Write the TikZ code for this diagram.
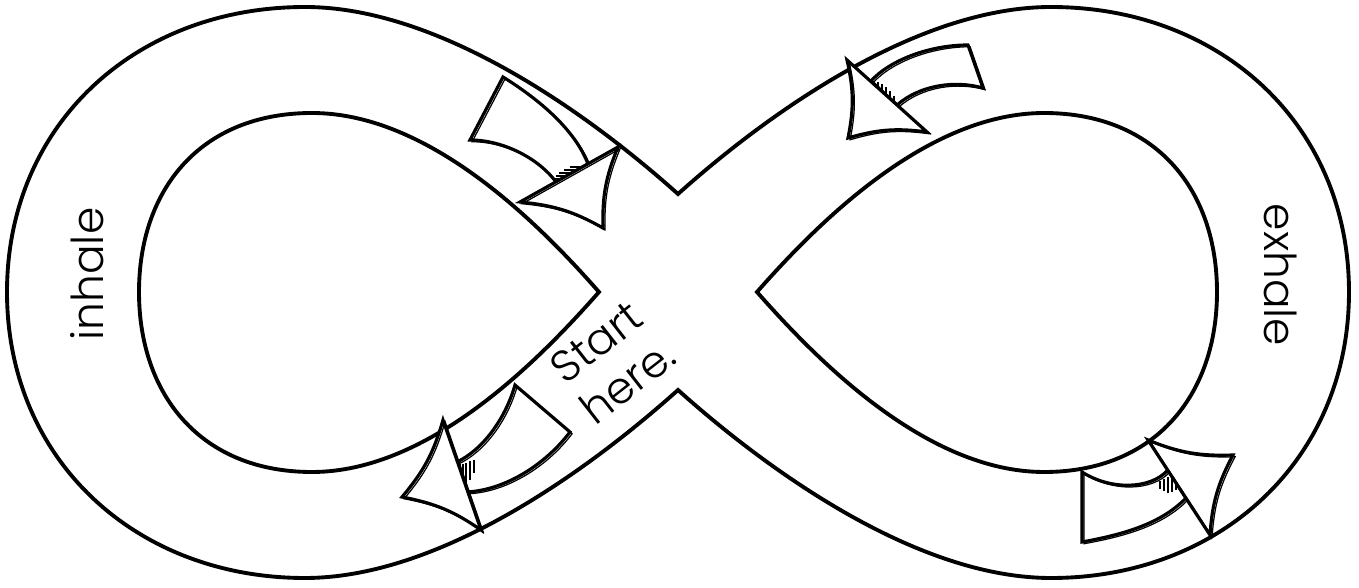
\documentclass[tikz,border=0pt]{standalone}
\usepackage{fontspec}
\newfontfamily\handfont{Poppins}[UprightFont=* Light]
\tikzset{
    track/.style={draw=black, line width=1.1pt},
    sketch/.style={draw=black, fill=white, line width=0.9pt, postaction={draw=black, line width=0.35pt, transform canvas={shift={(0.6pt,-0.5pt)}}}},
    hatch/.style={draw=black, line width=0.45pt},
    word/.style={font=\handfont\fontsize{12.5}{14.5}\selectfont, inner sep=0pt},
}

\begin{document}
\begin{tikzpicture}[x=0.01cm, y=-0.01cm]
\useasboundingbox (0,0) rectangle (1359,588);

% Outer edge of the track
\draw[track] (678,194) .. controls (591,116) and (441,7) .. (305,7)
    .. controls (135,7) and (7,125) .. (7,292)
    .. controls (7,459) and (135,578) .. (305,578)
    .. controls (441,578) and (591,468) .. (678,390)
    .. controls (765,468) and (915,578) .. (1051,578)
    .. controls (1221,578) and (1349,459) .. (1349,292)
    .. controls (1349,125) and (1221,7) .. (1051,7)
    .. controls (915,7) and (765,116) .. (678,194) -- cycle;

% Inner holes
\draw[track] (599,292) .. controls (540,225) and (430,113) .. (312,113)
    .. controls (200,113) and (139,190) .. (139,292)
    .. controls (139,394) and (200,472) .. (312,472)
    .. controls (430,472) and (540,359) .. (599,292) -- cycle;
\draw[track] (757,292) .. controls (816,225) and (926,113) .. (1044,113)
    .. controls (1156,113) and (1217,190) .. (1217,292)
    .. controls (1217,394) and (1156,472) .. (1044,472)
    .. controls (926,472) and (816,359) .. (757,292) -- cycle;

% Sketchy arrows: body, hatching, head
\draw[sketch] (503,77) -- (470,140) .. controls (505,140) and (540,160) .. (556,182)
    -- (588,164) .. controls (575,130) and (540,100) .. (503,77) -- cycle;
\foreach \y/\a/\b in {167/570/581, 170/564/576, 173/559/570, 176/556/565, 179/555/560}
    \draw[hatch] (\a,\y) -- (\b,\y);
\draw[sketch] (520,202) to[bend left=12] (603,228) to[bend left=12] (618,147) -- cycle;

\draw[sketch] (968,45) .. controls (930,45) and (890,60) .. (871,81)
    -- (897,105) .. controls (920,85) and (955,80) .. (983,88) -- cycle;
\foreach \x/\a/\b in {878/82/88, 882/84/91, 886/87/95, 890/91/98, 894/96/102}
    \draw[hatch] (\x,\a) -- (\x,\b);
\draw[sketch] (847,60) to[bend left=12] (848,138) to[bend left=12] (927,132) -- cycle;

\draw[sketch] (515,385) .. controls (505,420) and (482,450) .. (457,462)
    -- (467,492) .. controls (505,490) and (545,465) .. (570,432) -- cycle;
\foreach \x/\a/\b in {460/464/476, 463/464/480, 466/463/484, 470/461/480, 474/460/473}
    \draw[hatch] (\x,\a) -- (\x,\b);
\draw[sketch] (443,420) to[bend left=12] (402,497) to[bend left=12] (481,530) -- cycle;

\draw[sketch] (1082,472) .. controls (1110,490) and (1150,490) .. (1168,470)
    -- (1186,498) .. controls (1160,525) and (1120,535) .. (1082,542) -- cycle;
\foreach \x/\a/\b in {1160/481/489, 1164/479/491, 1168/477/493, 1172/477/492, 1176/479/490}
    \draw[hatch] (\x,\a) -- (\x,\b);
\draw[sketch] (1148,440) to[bend right=12] (1233,455) to[bend right=12] (1210,535) -- cycle;

% Labels
\node[word, rotate=90] (inhale) at (87,274) {inhale};
\node[word, rotate=-90] (exhale) at (1281,275) {exhale};
\node[word, rotate=38, align=center] (start) at (612,362) {Start\\here.};

\end{tikzpicture}
\end{document}
